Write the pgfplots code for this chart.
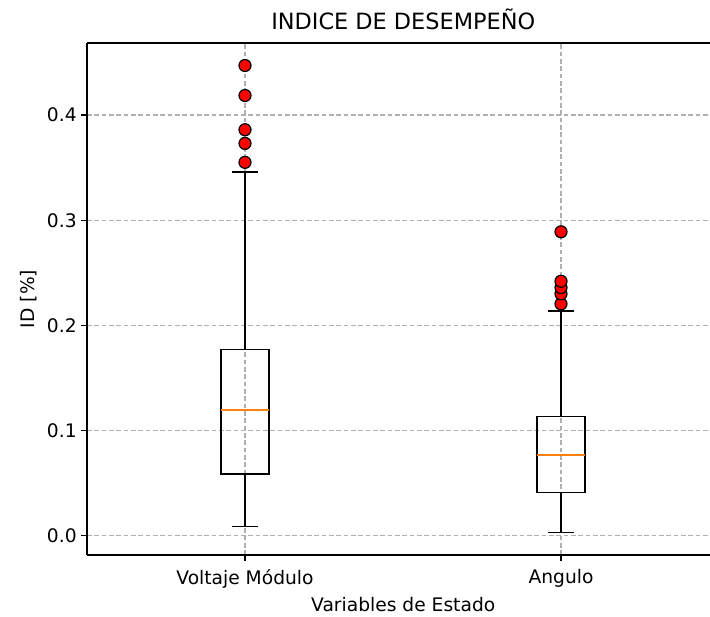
\documentclass[border=0pt]{standalone}
\usepackage{fontspec}
\setmainfont{DejaVu Sans}
\usepackage{pgfplots}
\pgfplotsset{compat=1.18}
\usepgfplotslibrary{statistics}
\definecolor{mplorange}{HTML}{FF7F0E}
\definecolor{gridgray}{HTML}{B0B0B0}
\begin{document}
\begin{tikzpicture}
\begin{axis}[
  name=ax, at={(0,0)}, anchor=south west,
  scale only axis, width=467.25pt, height=384pt,
  xmin=0.5, xmax=2.4715, ymin=-0.0181, ymax=0.4684,
  axis x line*=box, axis y line*=left,
  axis line style={line width=0.8pt, black},
  xtick pos=bottom, ytick pos=left,
  xtick={1,2}, xticklabels={Voltaje Módulo, Angulo},
  ytick={0,0.1,0.2,0.3,0.4},
  yticklabel style={/pgf/number format/.cd, fixed, fixed zerofill, precision=1},
  xticklabel style={yshift=-3pt},
  /pgf/number format/assume math mode=true,
  tick align=outside, major tick length=4.2pt,
  every tick/.style={black, line width=0.8pt},
  tick label style={font=\fontsize{14}{16}\selectfont},
  grid=major,
  major grid style={gridgray, line width=0.8pt, dash pattern=on 3.5pt off 2pt},
  title={INDICE DE DESEMPEÑO},
  title style={at={(axis description cs:0.5076,1)}, anchor=base, yshift=3.75pt, font=\fontsize{16.8}{19}\selectfont},
  xlabel={Variables de Estado},
  xlabel style={at={(axis description cs:0.5076,0)}, anchor=base, yshift=-42pt, font=\fontsize{14}{16}\selectfont},
  ylabel={ID [\%]},
  ylabel style={at={(axis description cs:-0.094,0.5)}, anchor=center, font=\fontsize{14}{16}\selectfont},
  boxplot/draw direction=y,
  boxplot/box extend=0.151,
  boxplot/whisker extend=0.082,
  boxplot/every median/.style={draw=mplorange, line width=1.4pt},
]
\addplot[black, line width=1.05pt, mark=*, mark size=4.5pt,
  mark options={fill=red, draw=black, line width=0.9pt, solid},
  boxplot prepared={draw position=1,
    lower whisker=0.0089, lower quartile=0.0589, median=0.120,
    upper quartile=0.1774, upper whisker=0.346}]
  coordinates {(1,0.355) (1,0.373) (1,0.386) (1,0.4185) (1,0.447)};
\addplot[black, line width=1.05pt, mark=*, mark size=4.5pt,
  mark options={fill=red, draw=black, line width=0.9pt, solid},
  boxplot prepared={draw position=2,
    lower whisker=0.0035, lower quartile=0.0415, median=0.0770,
    upper quartile=0.1134, upper whisker=0.2138}]
  coordinates {(2,0.2205) (2,0.230) (2,0.236) (2,0.242) (2,0.289)};
\end{axis}
\pgfresetboundingbox
\path (-65.25pt,-46.5pt) rectangle (467.25pt,416.25pt);
\end{tikzpicture}
\end{document}
